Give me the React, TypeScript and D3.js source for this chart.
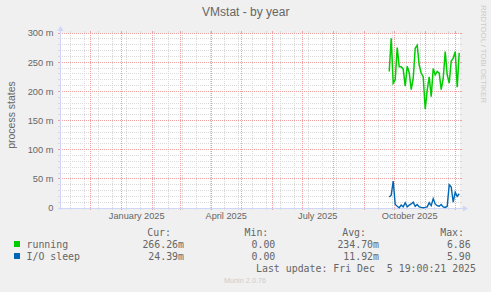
import React from 'react';
import * as d3 from 'd3';

// ---------- data ----------
const title = 'VMstat - by year';
const yAxisTitle = 'process states';
const watermark = 'RRDTOOL / TOBI OETIKER';
const version = 'Munin 2.0.76';
const lastUpdate = 'Last update: Fri Dec  5 19:00:21 2025';

const rangeStart = new Date(2024, 9, 31, 19, 0, 21);
const rangeEnd = new Date(2025, 11, 5, 19, 0, 21);
const firstSample = new Date(2025, 8, 26);
const sampleStepDays = 2;

// values in milli-units (m)
const runningValues = [234, 291, 214, 220, 275, 242, 242, 238, 209, 243, 232, 203, 222, 274, 279, 245, 231, 225, 170, 202, 225, 191, 239, 228, 234, 231, 203, 222, 268, 228, 214, 252, 257, 268, 207, 266];
const ioSleepValues = [19, 22, 46, 6, 3, 0.5, 5, 2, 9, 2, 5, 7, 10, 3, 6, 2, 1, 0.5, 1, 2, 9, 4, 16, 7, 4, 3, 6, 2, 1, 3, 40, 36, 10, 27, 20, 24.4];

const yMax = 300;
const yMajorTicks = [0, 50, 100, 150, 200, 250, 300];
const yTickLabels = ['0', '50 m', '100 m', '150 m', '200 m', '250 m', '300 m'];
const yMinorStep = 10;

const seriesNames = ['running', 'I/O sleep'];
const seriesColors = ['#00cc00', '#0066b3'];
const statHeaders = ['Cur:', 'Min:', 'Avg:', 'Max:'];
const runningStats = ['266.26m', '0.00', '234.70m', '6.86'];
const ioSleepStats = ['24.39m', '0.00', '11.92m', '5.90'];

// ---------- layout ----------
const W = 491;
const H = 292;
const L = 60;
const R = 460;
const T = 33;
const B = 208;
const SANS = '"Liberation Sans", Arial, sans-serif';
const MONO = '"DejaVu Sans Mono", monospace';
const FONT_COLOR = '#666666';
const GRID = '#dadada';
const MGRID = '#f0a0a0';
const AXIS = '#cfd6f8';
const headerEnds = [171, 268.3, 366, 464];
const valueEnds = [184, 275.3, 379, 470.7];

export default function App() {
  const x = d3.scaleTime().domain([rangeStart, rangeEnd]).range([L, R]);
  const y = d3.scaleLinear().domain([0, yMax]).range([B, T]);
  const dates = runningValues.map((_, i) => d3.timeDay.offset(firstSample, i * sampleStepDays));
  const line = d3
    .line<number>()
    .x((_, i) => x(dates[i]))
    .y((d) => y(d));

  const months = d3.timeMonth.range(d3.timeMonth.ceil(rangeStart), rangeEnd);
  const minorX = d3.timeMonday.range(rangeStart, rangeEnd).filter((_, i) => i % 2 === 1);
  const quarterMonths = months.filter((m) => m.getMonth() % 3 === 0);
  const fmt = d3.timeFormat('%B %Y');
  const minorY = d3.range(0, yMax + 0.001, yMinorStep).filter((v) => v % 50 !== 0);

  const px = (v: number) => Math.floor(v) + 0.5;

  const vLine = (d: Date, color: string, key: string) => {
    const xx = px(x(d));
    return (
      <g key={key}>
        <line x1={xx} x2={xx} y1={T} y2={B} stroke={color} strokeWidth={1} strokeDasharray="1,1" />
        <line x1={xx} x2={xx} y1={T - 2} y2={T} stroke={color} strokeWidth={1} />
        <line x1={xx} x2={xx} y1={B} y2={B + 2} stroke={color} strokeWidth={1} />
      </g>
    );
  };
  const hLine = (v: number, color: string, key: string) => {
    const yy = px(y(v));
    return (
      <g key={key}>
        <line x1={L} x2={R} y1={yy} y2={yy} stroke={color} strokeWidth={1} strokeDasharray="1,1" />
        <line x1={L - 2} x2={L} y1={yy} y2={yy} stroke={color} strokeWidth={1} />
        <line x1={R} x2={R + 2} y1={yy} y2={yy} stroke={color} strokeWidth={1} />
      </g>
    );
  };

  const statRows = [runningStats, ioSleepStats];

  return (
    <>
      <style>{'body{margin:0}'}</style>
      <svg width={W} height={H} style={{ display: 'block' }} xmlns="http://www.w3.org/2000/svg">
        <rect x={0} y={0} width={W} height={H} fill="#f0f0f0" />
        <rect x={L} y={T} width={R - L} height={B - T} fill="#ffffff" />

        {/* grid */}
        {minorX.map((d, i) => vLine(d, GRID, 'mx' + i))}
        {minorY.map((v, i) => hLine(v, GRID, 'my' + i))}
        {months.map((d, i) => vLine(d, MGRID, 'Mx' + i))}
        {yMajorTicks.map((v, i) => hLine(v, MGRID, 'My' + i))}

        {/* axes */}
        <line x1={L + 0.5} x2={L + 0.5} y1={B + 2} y2={T - 4} stroke={AXIS} strokeWidth={1} />
        <line x1={L - 2} x2={R + 4} y1={B + 0.5} y2={B + 0.5} stroke={AXIS} strokeWidth={1} />
        <path d={`M${L - 2.5},${T - 2} L${L + 3.5},${T - 2} L${L + 0.5},${T - 7} Z`} fill={AXIS} />
        <path d={`M${R + 3},${B - 2.5} L${R + 3},${B + 3.5} L${R + 8},${B + 0.5} Z`} fill={AXIS} />

        {/* series */}
        <path d={line(runningValues) || ''} fill="none" stroke={seriesColors[0]} strokeWidth={1.5} />
        <path d={line(ioSleepValues) || ''} fill="none" stroke={seriesColors[1]} strokeWidth={1.4} />

        {/* y tick labels */}
        {yMajorTicks.map((v, i) => (
          <text key={'yl' + i} x={53.5} y={y(v) + 3.4} textAnchor="end" fontFamily={SANS} fontSize={9.3} fill={FONT_COLOR}>
            {yTickLabels[i]}
          </text>
        ))}
        {/* x tick labels */}
        {quarterMonths.map((m, i) => (
          <text
            key={'xl' + i}
            x={(x(m) + x(d3.timeMonth.offset(m, 1))) / 2}
            y={218.5}
            textAnchor="middle"
            fontFamily={SANS}
            fontSize={9.2}
            fill={FONT_COLOR}
          >
            {fmt(m)}
          </text>
        ))}

        {/* titles */}
        <text x={245.8} y={16} textAnchor="middle" fontFamily={SANS} fontSize={12} fill={FONT_COLOR}>
          {title}
        </text>
        <text
          transform="translate(15,115) rotate(-90)"
          textAnchor="middle"
          fontFamily={SANS}
          fontSize={10.5}
          fill={FONT_COLOR}
        >
          {yAxisTitle}
        </text>
        <text
          transform="translate(481,5) rotate(90)"
          textAnchor="start"
          fontFamily={SANS}
          fontSize={8}
          textLength={98}
          lengthAdjust="spacing"
          fill="#cccccc"
        >
          {watermark}
        </text>

        {/* legend */}
        {statHeaders.map((h, i) => (
          <text key={'sh' + i} x={headerEnds[i]} y={236.3} textAnchor="end" fontFamily={MONO} fontSize={9.9} fill={FONT_COLOR}>
            {h}
          </text>
        ))}
        {seriesNames.map((name, r) => (
          <g key={'row' + r}>
            <rect x={14} y={241 + r * 12} width={6} height={6} fill={seriesColors[r]} />
            <text x={26.5} y={248.3 + r * 12} fontFamily={MONO} fontSize={9.9} fill={FONT_COLOR} style={{ whiteSpace: 'pre' }}>
              {name}
            </text>
            {statRows[r].map((s, i) => (
              <text key={'sv' + i} x={valueEnds[i]} y={248.3 + r * 12} textAnchor="end" fontFamily={MONO} fontSize={9.9} fill={FONT_COLOR}>
                {s}
              </text>
            ))}
          </g>
        ))}
        <text x={476} y={272.3} textAnchor="end" fontFamily={MONO} fontSize={9.9} fill={FONT_COLOR} style={{ whiteSpace: 'pre' }}>
          {lastUpdate}
        </text>
        <text x={245} y={282.6} textAnchor="middle" fontFamily={SANS} fontSize={7.3} fill="#cccccc">
          {version}
        </text>
      </svg>
    </>
  );
}
